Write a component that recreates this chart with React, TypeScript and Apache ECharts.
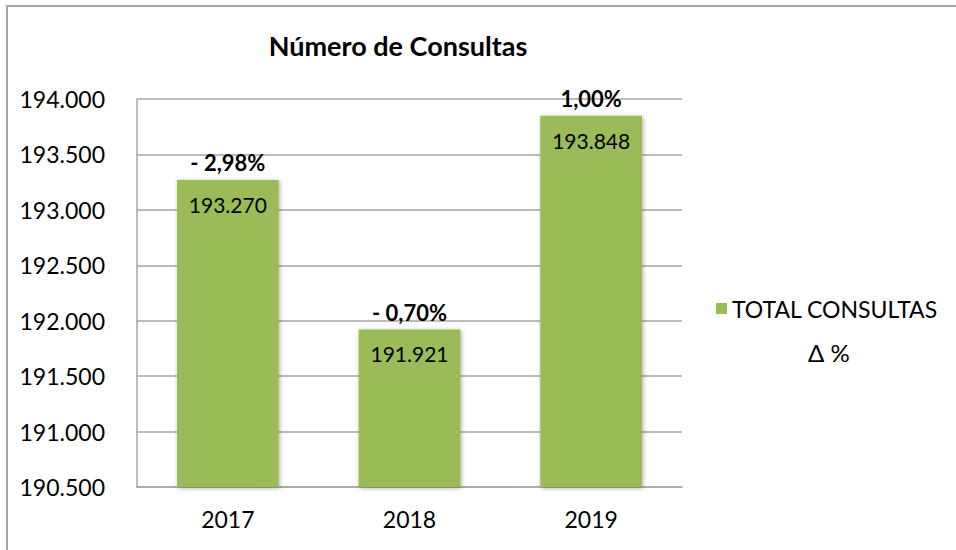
import React, { useEffect, useRef } from "react";
import * as echarts from "echarts";

const categories = ["2017", "2018", "2019"];
const totalConsultas = [193270, 191921, 193848];
const deltaLabels = ["- 2,98%", "- 0,70%", "1,00%"];
const yMin = 190500;
const yMax = 194000;
const yInterval = 500;

const FONT = "Lato";

function fmt(v: number): string {
  return String(Math.round(v)).replace(/\B(?=(\d{3})+(?!\d))/g, ".");
}

export default function App() {
  const ref = useRef<HTMLDivElement>(null);
  useEffect(() => {
    if (!ref.current) return;
    const chart = echarts.init(ref.current, undefined, { renderer: "svg" });
    chart.setOption({
      animation: false,
      backgroundColor: "#ffffff",
      title: {
        text: "Número de Consultas",
        left: 393,
        top: 27,
        textAlign: "center",
        textStyle: { fontFamily: FONT, fontSize: 27, fontWeight: "bold", color: "#000" },
      },
      grid: { left: 137, right: 274, top: 99, bottom: 63 },
      legend: [
        {
          data: [{ name: "TOTAL CONSULTAS", icon: "rect" }],
          left: 711,
          top: 292,
          itemWidth: 11,
          itemHeight: 11,
          itemGap: 8,
          selectedMode: false,
          textStyle: { fontFamily: FONT, fontSize: 23, color: "#000" },
        },
        {
          data: [{ name: "Δ %", icon: "none" }],
          left: 798,
          top: 335,
          itemWidth: 0,
          itemHeight: 0,
          selectedMode: false,
          textStyle: { fontFamily: FONT, fontSize: 24, color: "#000" },
        },
      ],
      xAxis: {
        type: "category",
        data: categories,
        axisLine: { show: true, lineStyle: { color: "#a6a6a6", width: 1.5 } },
        axisTick: { show: false },
        axisLabel: { fontFamily: FONT, fontSize: 23, color: "#000", margin: 20 },
      },
      yAxis: {
        type: "value",
        min: yMin,
        max: yMax,
        interval: yInterval,
        axisLine: { show: true, lineStyle: { color: "#a6a6a6", width: 1.5 } },
        axisTick: { show: false },
        splitLine: { lineStyle: { color: "#a6a6a6", width: 1.5 } },
        axisLabel: {
          fontFamily: FONT,
          fontSize: 23,
          color: "#000",
          margin: 32,
          formatter: (v: number) => fmt(v),
        },
      },
      series: [
        {
          name: "TOTAL CONSULTAS",
          type: "bar",
          data: totalConsultas,
          barWidth: "56%",
          itemStyle: {
            color: "#9bbb59",
            shadowBlur: 4,
            shadowColor: "rgba(0,0,0,0.35)",
            shadowOffsetX: 1,
            shadowOffsetY: 1,
          },
          label: {
            show: true,
            position: "insideTop",
            distance: 14,
            fontFamily: FONT,
            fontSize: 21,
            color: "#000",
            formatter: (p: any) => fmt(p.value),
          },
        },
        {
          name: "Δ %",
          type: "bar",
          data: totalConsultas,
          barWidth: "56%",
          barGap: "-100%",
          itemStyle: { color: "rgba(0,0,0,0)" },
          label: {
            show: true,
            position: "top",
            distance: 6,
            fontFamily: FONT,
            fontSize: 22,
            fontWeight: "bold",
            color: "#000",
            formatter: (p: any) => deltaLabels[p.dataIndex],
          },
        },
      ],
      graphic: [
        {
          type: "rect",
          shape: { x: 7, y: 6, width: 1000, height: 600 },
          style: { fill: "none", stroke: "#a6a6a6", lineWidth: 2 },
          silent: true,
        },
      ],
    });
    return () => chart.dispose();
  }, []);
  return (
    <div
      ref={ref}
      style={{ position: "fixed", left: 0, top: 0, width: 956, height: 550 }}
    />
  );
}
